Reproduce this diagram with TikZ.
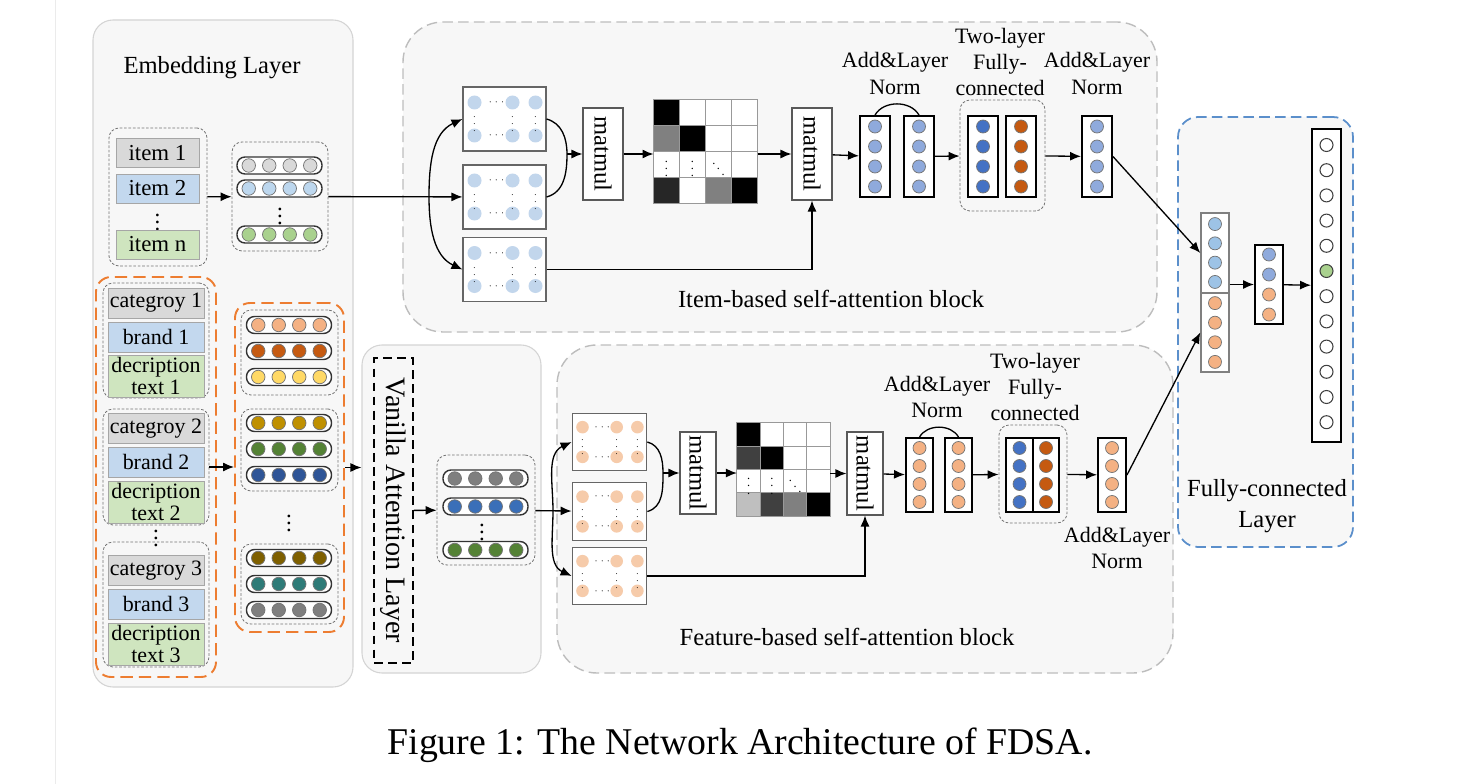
\documentclass[tikz,border=0pt]{standalone}
\usepackage{fontspec}
\setmainfont{Liberation Serif}
\usepackage{graphicx}
\usetikzlibrary{arrows.meta, positioning, calc}
\definecolor{panelfill}{HTML}{F7F7F7}
\definecolor{panelline}{HTML}{D4D4D4}
\definecolor{blockline}{HTML}{BDBDBD}
\definecolor{orangeline}{HTML}{ED7D31}
\definecolor{blueline}{HTML}{5B8FCB}
\definecolor{boxgray}{HTML}{D9D9D9}
\definecolor{boxblue}{HTML}{C3D8EE}
\definecolor{boxgreen}{HTML}{CFE5BF}
\definecolor{dotgray}{HTML}{D9D9D9}
\definecolor{dotblue}{HTML}{BDD7EE}
\definecolor{dotgreen}{HTML}{A9D18E}
\definecolor{qkvblue}{HTML}{C2D6EC}
\definecolor{qkvpeach}{HTML}{F6CBAA}
\definecolor{anblue}{HTML}{8FAADC}
\definecolor{anorange}{HTML}{F4B183}
\definecolor{fcblue}{HTML}{4472C4}
\definecolor{fcbrown}{HTML}{C55A11}
\definecolor{catblue}{HTML}{9DC3E6}
\definecolor{embpeach}{HTML}{F4B183}
\definecolor{embrust}{HTML}{C55A11}
\definecolor{embyellow}{HTML}{FFD966}
\definecolor{embgold}{HTML}{BF9000}
\definecolor{embgreen}{HTML}{548235}
\definecolor{embblue}{HTML}{2F5597}
\definecolor{embolive}{HTML}{7F6000}
\definecolor{embteal}{HTML}{2E7B78}
\definecolor{embgray}{HTML}{7F7F7F}
\definecolor{vecblue}{HTML}{3A6FB8}

\newcommand\pu{0.02cm}
% one row of embedding dots in a pill
\newcommand\pillrow[4]{%
  \node[pill] (#1) at (#2,#3) {};
  \foreach \k in {-1.5,-0.5,0.5,1.5}
    \node[edot, fill=#4, minimum size=13.5*\pu] at ({#2+\k*20.5},#3) {};
}
% a column of four dots: [opts]{name}{cx}{cy}{height}{colour}{spacing}
\newcommand\vcol[7][]{%
  \node[colbox, minimum height=#5*\pu, #1] (#2) at (#3,#4) {};
  \foreach \k in {-1.5,-0.5,0.5,1.5}
    \node[edot, fill=#6, minimum size={min(13,#7-5)*\pu}] at (#3,{#4+\k*#7}) {};
}
% Q/K/V matrix: {name}{cx}{cy}{scale}{colour}
\newcommand\qkv[5]{%
  \node[qbox, minimum width=83*#4*\pu, minimum height=64*#4*\pu] (#1) at (#2,#3) {};
  \foreach \dx in {-30,8,31} \foreach \dy in {-16.5,16.5}
    \node[sdot, fill=#5, minimum size=14*#4*\pu] at ({#2+\dx*#4},{#3+\dy*#4}) {};
  \foreach \dy in {-16.5,16.5}
    \node[font=\tiny, inner sep=0] at ({#2-8*#4},{#3+\dy*#4}) {$\cdots$};
  \foreach \dx in {-30,8,31}
    \node[font=\tiny, inner sep=0] at ({#2+\dx*#4},#3) {$\vdots$};
}
% attention map: {name}{cx}{cy}{cell}{rows of colours}
\newcommand\attmat[5]{%
  \node[inner sep=0, outer sep=0, minimum size=4*#4*\pu] (#1) at (#2,#3) {};
  \foreach \row [count=\ri from 0] in {#5} {
    \foreach \fc [count=\ci from 0] in \row
      \draw[draw=black!40, line width=0.5pt, fill=\fc]
        ($(#1.north west)+(\ci*#4,\ri*#4)$) rectangle ++(#4,#4);
  }
  \foreach \ci/\sym in {0/\vdots, 1/\vdots, 2/\ddots}
    \node[font=\scriptsize, inner sep=0] at ($(#1.north west)+({(\ci+0.5)*#4},{2.5*#4})$) {$\sym$};
}

\begin{document}
\begin{tikzpicture}[x=0.02cm, y=-0.02cm,
  panel/.style={draw=panelline, fill=panelfill, rounded corners=4mm, line width=0.6pt, inner sep=0},
  blk/.style={draw=blockline, fill=panelfill, rounded corners=8mm, line width=0.8pt,
              dash pattern=on 6pt off 3pt, inner sep=0},
  grp/.style={draw=black!55, rounded corners=2mm, line width=0.45pt, dash pattern=on 1.5pt off 1pt, inner sep=0},
  ogrp/.style={draw=orangeline, rounded corners=3mm, line width=1.1pt, dash pattern=on 7pt off 3.5pt, inner sep=0},
  tbox/.style={draw=black!35, line width=0.5pt, minimum width=83*\pu, minimum height=29*\pu,
               inner sep=0, font=\fontsize{13}{14}\selectfont},
  fbox/.style={tbox, minimum width=96*\pu, minimum height=30*\pu, align=center,
               font=\fontsize{12.5}{12.5}\selectfont},
  pill/.style={draw=black!80, line width=0.8pt, fill=white, rounded corners=1.6mm,
               minimum width=85*\pu, minimum height=17*\pu, inner sep=0},
  edot/.style={circle, draw=black!55, line width=0.4pt, inner sep=0, minimum size=13*\pu},
  sdot/.style={circle, inner sep=0, minimum size=13*\pu},
  vdot/.style={font=\fontsize{13}{13}\selectfont, inner sep=0},
  qbox/.style={draw=black!60, fill=white, line width=0.6pt, inner sep=0},
  mm/.style={draw=black!65, fill=white, line width=0.6pt, minimum width=40*\pu, minimum height=92*\pu,
             inner sep=0, font=\fontsize{14}{14}\selectfont},
  colbox/.style={draw=black, fill=white, line width=1.1pt, minimum width=30*\pu, inner sep=0},
  lbl/.style={font=\fontsize{12.5}{15}\selectfont, align=center, inner sep=0},
  ttl/.style={font=\fontsize{14}{17.5}\selectfont, align=center, inner sep=0},
  arr/.style={-{Latex[length=2.2mm, width=1.8mm]}, line width=0.75pt},
  con/.style={line width=0.75pt}]

\path[use as bounding box, fill=white] (0,0) rectangle (1478,784);
\draw[black!8] (55,0) -- (55,784);

% panels and blocks
\node[panel, minimum width=260*\pu, minimum height=667*\pu] (embpanel) at (223,353.5) {};
\node[panel, minimum width=179*\pu, minimum height=328*\pu] (vpanel) at (451.5,509) {};
\node[blk, minimum width=754*\pu, minimum height=310*\pu] (itemblk) at (780,177) {};
\node[blk, minimum width=616*\pu, minimum height=328*\pu] (featblk) at (865,509) {};
\node[draw=blueline, fill=panelfill, rounded corners=4mm, line width=1pt, dash pattern=on 6pt off 3pt,
      inner sep=0, minimum width=175*\pu, minimum height=430*\pu] (fcpanel) at (1265.5,332) {};

% embedding layer
\node[ttl] (embtitle) at (212,68) {Embedding Layer};
\node[grp, minimum width=98*\pu, minimum height=138*\pu] (igrp) at (158,197) {};
\node[tbox, fill=boxgray] (item1) at (157.5,153) {item 1};
\node[tbox, fill=boxblue] (item2) at (157.5,188.5) {item 2};
\node[vdot] (idots) at (157.5,217) {$\vdots$};
\node[tbox, fill=boxgreen] (itemn) at (157.5,244.5) {item n};

\node[grp, minimum width=96*\pu, minimum height=109*\pu] (iemb) at (280,196.5) {};
\pillrow{ir1}{279.5}{165.5}{dotgray}
\pillrow{ir2}{279.5}{188.5}{dotblue}
\node[vdot] (iembdots) at (280,211) {$\vdots$};
\pillrow{ir3}{279.5}{234.5}{dotgreen}

\node[ogrp, minimum width=120*\pu, minimum height=400*\pu] (femL) at (156,477) {};
\node[grp, minimum width=106*\pu, minimum height=115*\pu] (fg1) at (156,340.5) {};
\node[grp, minimum width=106*\pu, minimum height=116*\pu] (fg2) at (156,467) {};
\node[grp, minimum width=106*\pu, minimum height=125*\pu] (fg3) at (156,604.5) {};
\node[fbox, fill=boxgray] (cat1) at (156,303) {categroy 1};
\node[fbox, fill=boxblue] (brand1) at (156,337) {brand 1};
\node[fbox, fill=boxgreen, minimum height=42*\pu] (desc1) at (156,376) {decription\\text 1};
\node[fbox, fill=boxgray] (cat2) at (156,428.5) {categroy 2};
\node[fbox, fill=boxblue] (brand2) at (156,462) {brand 2};
\node[fbox, fill=boxgreen, minimum height=42*\pu] (desc2) at (156,502) {decription\\text 2};
\node[vdot] (fdots) at (156,533) {$\vdots$};
\node[fbox, fill=boxgray] (cat3) at (156,570.5) {categroy 3};
\node[fbox, fill=boxblue] (brand3) at (156,604) {brand 3};
\node[fbox, fill=boxgreen, minimum height=42*\pu] (desc3) at (156,644) {decription\\text 3};

\node[ogrp, minimum width=109*\pu, minimum height=329*\pu] (fembR) at (289.5,467.5) {};
\node[grp, minimum width=97*\pu, minimum height=85*\pu] (eg1) at (289.5,352.5) {};
\node[grp, minimum width=97*\pu, minimum height=82*\pu] (eg2) at (289.5,450) {};
\node[grp, minimum width=97*\pu, minimum height=80*\pu] (eg3) at (289.5,584) {};
\pillrow{er1}{289}{325}{embpeach}
\pillrow{er2}{289}{351}{embrust}
\pillrow{er3}{289}{377}{embyellow}
\pillrow{er4}{289}{423}{embgold}
\pillrow{er5}{289}{449}{embgreen}
\pillrow{er6}{289}{475}{embblue}
\node[vdot] (edots) at (289,518) {$\vdots$};
\pillrow{er7}{289}{558}{embolive}
\pillrow{er8}{289}{584}{embteal}
\pillrow{er9}{289}{610}{embgray}

% vanilla attention
\node[draw=black, dash pattern=on 5pt off 3pt, line width=0.9pt, minimum width=39*\pu,
      minimum height=305*\pu, inner sep=0, font=\fontsize{16}{16}\selectfont] (van)
      at (393.5,510.5) {\rotatebox{-90}{Vanilla Attention Layer}};
\node[grp, minimum width=98*\pu, minimum height=110*\pu] (fvec) at (486,510) {};
\pillrow{vr1}{485.5}{478.5}{embgray}
\pillrow{vr2}{485.5}{506.5}{vecblue}
\node[vdot] (vdots) at (482,527) {$\vdots$};
\pillrow{vr3}{485.5}{550}{embgreen}

% item-based self-attention block
\qkv{qi}{504.5}{119}{1}{qkvblue}
\qkv{ki}{504.5}{197}{1}{qkvblue}
\qkv{vi}{504.5}{269.5}{1}{qkvblue}
\node[mm] (mm1) at (603,154) {\rotatebox{-90}{matmul}};
\attmat{att1}{705.5}{151}{26}{{black,white,white,white},{black!50,black,white,white},{white,white,white,white},{black!85,white,black!50,black}}
\node[mm] (mm2) at (812,154) {\rotatebox{-90}{matmul}};
\vcol{an1}{875}{156.5}{81}{anblue}{20}
\vcol{an2}{919}{156.5}{81}{anblue}{20}
\node[grp, minimum width=85*\pu, minimum height=111*\pu] (fcgrp1) at (1002.5,155.5) {};
\vcol{fc1a}{983}{156.5}{81}{fcblue}{20}
\vcol{fc1b}{1021}{156.5}{81}{fcbrown}{20}
\vcol{an3}{1097}{156.5}{81}{anblue}{20}
\node[lbl] (anlbl1) at (895,73.5) {Add\&Layer\\Norm};
\node[lbl] (fclbl1) at (1000,62) {Two-layer\\Fully-\\connected};
\node[lbl] (anlbl2) at (1097,73.5) {Add\&Layer\\Norm};
\node[ttl] (itemlbl) at (831,299) {Item-based self-attention block};

% feature-based self-attention block
\qkv{qf}{609.5}{442}{0.9}{qkvpeach}
\qkv{kf}{609.5}{511.5}{0.9}{qkvpeach}
\qkv{vf}{609.5}{576}{0.9}{qkvpeach}
\node[mm, minimum width=36*\pu, minimum height=82*\pu] (mm3) at (698,473) {\rotatebox{-90}{matmul}};
\attmat{att2}{783.5}{469.5}{23.3}{{black,white,white,white},{black!75,black,white,white},{white,white,white,white},{black!25,black!75,black!50,black}}
\node[mm, minimum width=36*\pu, minimum height=83*\pu] (mm4) at (865,473.5) {\rotatebox{-90}{matmul}};
\vcol[minimum width=27*\pu]{an4}{919.5}{475}{74}{anorange}{18}
\vcol[minimum width=27*\pu]{an5}{958.5}{475}{74}{anorange}{18}
\node[grp, minimum width=68*\pu, minimum height=98*\pu] (fcgrp2) at (1033,474) {};
\vcol[minimum width=27*\pu]{fc2a}{1019.5}{475}{74}{fcblue}{18}
\vcol[minimum width=26*\pu]{fc2b}{1046}{475}{74}{fcbrown}{18}
\vcol[minimum width=28*\pu]{an6}{1112}{475}{74}{anorange}{18}
\node[lbl] (anlbl3) at (937,397) {Add\&Layer\\Norm};
\node[lbl] (fclbl2) at (1035,387) {Two-layer\\Fully-\\connected};
\node[lbl] (anlbl4) at (1117,548) {Add\&Layer\\Norm};
\node[ttl] (featlbl) at (847,637) {Feature-based self-attention block};

% fully-connected layer
\vcol[draw=black!50, line width=0.8pt, minimum width=28*\pu]{catA}{1215}{253}{80}{catblue}{19.3}
\vcol[draw=black!50, line width=0.8pt, minimum width=28*\pu]{catB}{1215}{332.5}{79}{anorange}{19.6}
\node[colbox, minimum width=28*\pu, minimum height=79*\pu] (mid) at (1269,284.5) {};
\foreach \k/\c in {-1.5/anblue, -0.5/anblue, 0.5/anorange, 1.5/anorange}
  \node[edot, fill=\c] at (1269,{284.5+\k*20}) {};
\node[colbox, minimum width=29*\pu, minimum height=313*\pu] (tall) at (1326.5,285.5) {};
\foreach \k/\c in {0/white,1/white,2/white,3/white,4/white,5/dotgreen,
                   6/white,7/white,8/white,9/white,10/white,11/white}
  \node[edot, draw=black!75, line width=0.6pt, fill=\c] at (1326.5,{145+\k*25.2}) {};
\node[ttl] (fclbl) at (1267,506) {Fully-connected\\Layer};

% connectors, item side
\draw[arr] (igrp) -- (iemb);
\draw[arr] (iemb) -- (ki);
\coordinate (isplit) at (429,197);
\draw[arr] (isplit) to[out=90, in=205] (qi.west);
\draw[arr] (isplit) to[out=-90, in=155] (vi.west);
\coordinate (ijoin) at (567,154);
\draw[con] (qi.east) to[out=-15, in=90] (ijoin) to[out=-90, in=15] (ki.east);
\draw[arr] (ijoin) -- (mm1);
\draw[arr] (mm1.east) -- (mm1.east -| att1.west);
\draw[arr] (att1.east |- mm2) -- (mm2);
\draw[arr] (vi.east) -| (mm2.south);
\draw[arr] (mm2) -- (an1);
\draw[con] (an1.north) to[out=60, in=120] (an2.north);
\draw[arr] (an2) -- (fcgrp1);
\draw[arr] (fcgrp1) -- (an3);
\draw[arr] (an3.east) -- (catA.west);

% connectors, feature side
\draw[arr] (fg2.east) -- (fg2.east -| fembR.west);
\draw[arr] (fembR.east) -- (fembR.east -| vpanel.west);
\draw[arr] (van) -- (fvec);
\draw[arr] (fvec) -- (kf);
\coordinate (fsplit) at (553,511);
\draw[arr] (fsplit) to[out=90, in=205] (qf.west);
\draw[arr] (fsplit) to[out=-90, in=155] (vf.west);
\coordinate (fjoin) at (663,473);
\draw[con] (qf.east) to[out=-15, in=90] (fjoin) to[out=-90, in=15] (kf.east);
\draw[arr] (fjoin) -- (mm3);
\draw[arr] (mm3.east) -- (mm3.east -| att2.west);
\draw[arr] (att2.east |- mm4) -- (mm4);
\draw[arr] (vf.east) -| (mm4.south);
\draw[arr] (mm4) -- (an4);
\draw[con] (an4.north) to[out=60, in=120] (an5.north);
\draw[arr] (an5) -- (fcgrp2);
\draw[arr] (fcgrp2) -- (an6);
\draw[arr] (an6.east) -- (catB.west);

% output side
\draw[arr] (catA.east |- mid) -- (mid);
\draw[arr] (mid) -- (tall);

\node[font=\fontsize{21.5}{24}\selectfont] (caption) at (740,745) {Figure 1: The Network Architecture of FDSA.};
\end{tikzpicture}
\end{document}
